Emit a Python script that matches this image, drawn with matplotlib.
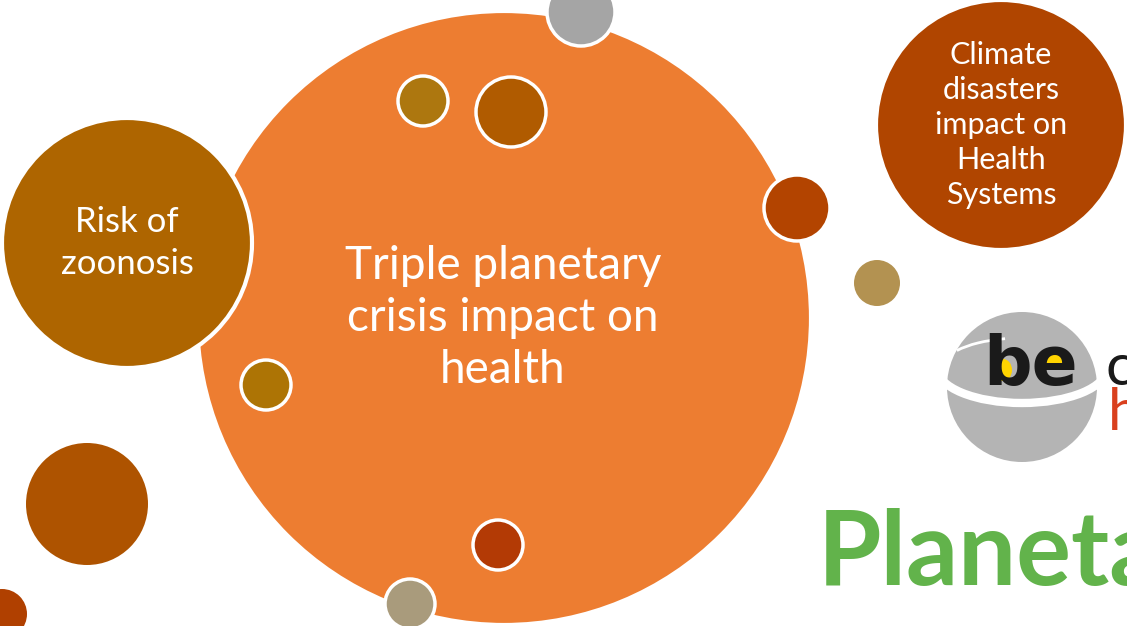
import matplotlib.pyplot as plt
from matplotlib.patches import Circle, Arc, Ellipse

# big labelled circles: (x, y, r) in pixels
main_label = 'Triple planetary\ncrisis impact on\nhealth'
side_labels = ['Risk of\nzoonosis', 'Climate\ndisasters\nimpact on\nHealth\nSystems']

big_x = [504, 127, 1001]
big_y = [318, 243, 125]
big_r = [307, 125, 125]
big_colors = ['#ED7D31', '#AE6500', '#B04500']

# decoration dots
dot_x = [581, 423, 511, 797, 877, 266, 87, 498, 410, 2]
dot_y = [12, 101, 112, 208, 283, 385, 504, 545, 604, 614]
dot_r = [34, 25, 35, 33, 23, 25, 61, 25, 25, 25]
dot_colors = ['#A5A5A5', '#AD770F', '#B05B00', '#B34400', '#B39251',
              '#AD7405', '#AE5300', '#B33A05', '#A99B7C', '#B04000']
dot_edge = [True, True, True, True, False, True, False, True, True, False]

W, H = 1127, 626
fig = plt.figure(figsize=(W / 100, H / 100), dpi=100)
ax = fig.add_axes([0, 0, 1, 1])
ax.set_xlim(0, W)
ax.set_ylim(H, 0)
ax.set_aspect('equal')
ax.axis('off')

for x, y, r, c in zip(big_x, big_y, big_r, big_colors):
    ax.add_patch(Circle((x, y), r, facecolor=c, edgecolor='white', lw=3, zorder=2))

for x, y, r, c, e in zip(dot_x, dot_y, dot_r, dot_colors, dot_edge):
    ax.add_patch(Circle((x, y), r, facecolor=c, edgecolor='white' if e else 'none',
                        lw=2.5, zorder=3))

font = 'Lato'
ax.text(503, 318, main_label, color='white', fontsize=33, ha='center', va='center',
        family=font, linespacing=1.3, zorder=4)
ax.text(127, 243, side_labels[0], color='white', fontsize=25, ha='center', va='center',
        family=font, linespacing=1.35, zorder=4)
ax.text(1001, 125, side_labels[1], color='white', fontsize=22, ha='center', va='center',
        family=font, linespacing=1.3, zorder=4)

# logo
ax.add_patch(Circle((1022, 387), 75, facecolor='#B4B4B4', edgecolor='none', zorder=2))
ax.add_patch(Arc((1022, 368), 170, 70, theta1=0, theta2=180, color='white', lw=6, zorder=3))
ax.add_patch(Arc((1022, 368), 160, 60, theta1=195, theta2=240, color='white', lw=2, zorder=3))
ax.add_patch(Ellipse((1003, 370), 18, 22, facecolor='#FFD400', zorder=4))
ax.add_patch(Ellipse((1053, 360), 20, 14, facecolor='#FFD400', zorder=4))
ax.text(983, 385, 'be', color='#1A1A1A', fontsize=49, fontweight='bold', family='DejaVu Sans',
        ha='left', va='baseline', zorder=5)
ax.text(1105, 385, 'c', color='#1A1A1A', fontsize=42, family=font, ha='left', va='baseline', zorder=5)
ax.text(1108, 430, 'h', color='#D9401E', fontsize=42, family=font, ha='left', va='baseline', zorder=5)

ax.text(818, 585, 'Planeta', color='#62B34B', fontsize=74, fontweight='bold', family=font,
        ha='left', va='baseline', zorder=5)

fig.savefig('out.png', dpi=100, facecolor='white')
